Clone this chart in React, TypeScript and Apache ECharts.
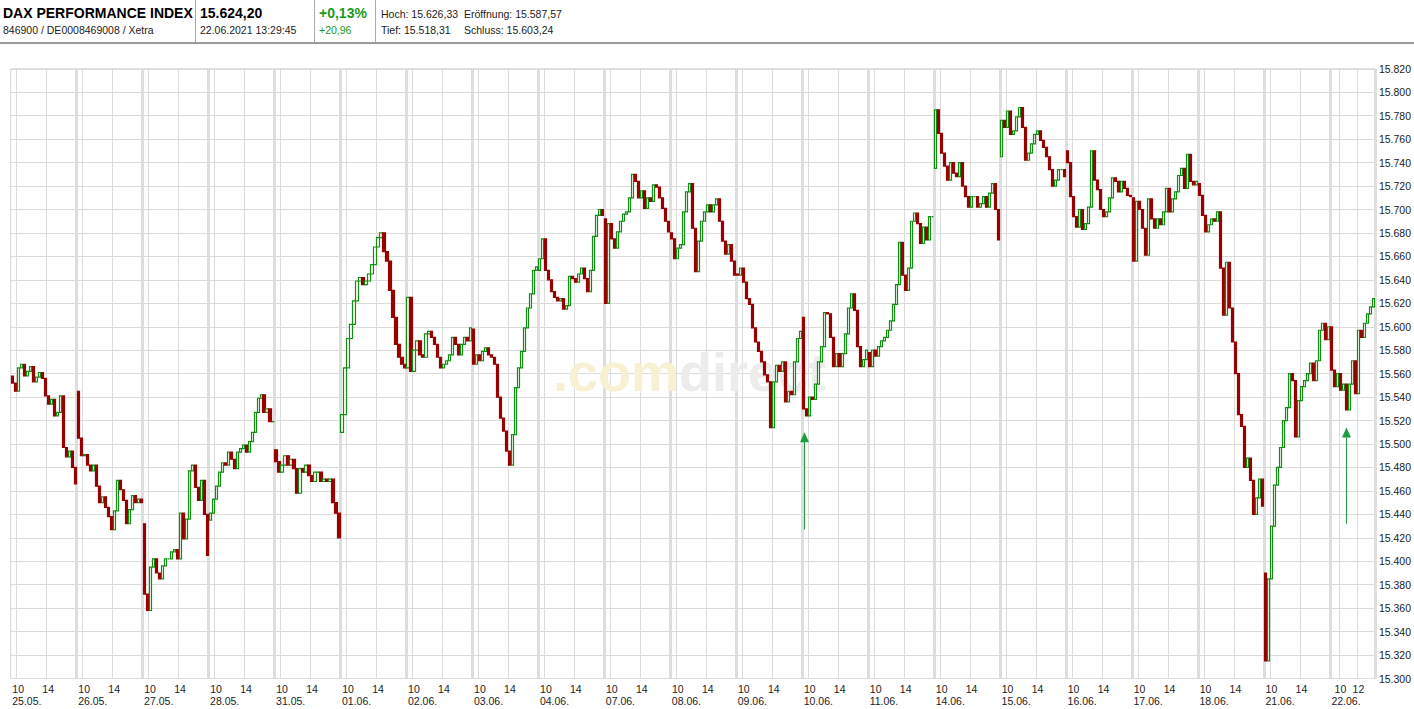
import React, { useEffect, useRef } from 'react';
import * as echarts from 'echarts';

// ---- data ----
const dayLabels = ['25.05.', '26.05.', '27.05.', '28.05.', '31.05.', '01.06.', '02.06.', '03.06.', '04.06.', '07.06.', '08.06.', '09.06.', '10.06.', '11.06.', '14.06.', '15.06.', '16.06.', '17.06.', '18.06.', '21.06.', '22.06.'];

const dayOpens = [15558, 15545, 15432, 15435, 15495, 15510, 15565, 15598, 15648, 15692, 15680, 15645, 15608, 15578, 15735, 15745, 15750, 15710, 15722, 15390, 15600];

const d0 = [15552, 15545, 15565, 15568, 15558, 15562, 15566, 15553, 15557, 15561, 15556, 15541, 15534, 15538, 15524, 15527, 15541, 15497, 15489, 15494, 15480, 15466];
const d1 = [15505, 15490, 15491, 15482, 15477, 15482, 15464, 15450, 15455, 15446, 15438, 15427, 15443, 15469, 15461, 15452, 15432, 15444, 15456, 15450, 15453, 15450];
const d2 = [15372, 15358, 15395, 15402, 15390, 15385, 15396, 15402, 15402, 15408, 15410, 15402, 15441, 15419, 15436, 15477, 15482, 15463, 15452, 15469, 15440, 15405];
const d3 = [15441, 15453, 15464, 15476, 15484, 15482, 15493, 15487, 15479, 15493, 15496, 15499, 15493, 15502, 15510, 15527, 15539, 15542, 15527, 15530, 15519, 15519];
const d4 = [15485, 15476, 15482, 15490, 15482, 15487, 15479, 15458, 15479, 15476, 15482, 15473, 15468, 15476, 15476, 15468, 15470, 15468, 15470, 15450, 15441, 15420];
const d5 = [15525, 15565, 15590, 15602, 15622, 15639, 15642, 15636, 15639, 15645, 15653, 15668, 15676, 15680, 15664, 15656, 15631, 15608, 15585, 15574, 15568, 15565];
const d6 = [15625, 15562, 15580, 15588, 15576, 15574, 15594, 15596, 15591, 15585, 15574, 15565, 15568, 15571, 15576, 15591, 15585, 15576, 15585, 15591, 15588, 15599];
const d7 = [15568, 15576, 15571, 15579, 15582, 15576, 15574, 15568, 15540, 15522, 15511, 15494, 15482, 15508, 15548, 15565, 15579, 15599, 15616, 15628, 15648, 15651];
const d8 = [15658, 15675, 15648, 15640, 15630, 15625, 15622, 15624, 15615, 15618, 15643, 15641, 15638, 15645, 15650, 15641, 15630, 15648, 15677, 15695, 15700, 15695];
const d9 = [15620, 15688, 15675, 15667, 15681, 15690, 15696, 15698, 15710, 15730, 15724, 15710, 15716, 15701, 15710, 15707, 15721, 15719, 15710, 15701, 15690, 15681];
const d10 = [15675, 15658, 15667, 15670, 15698, 15715, 15722, 15684, 15647, 15673, 15690, 15698, 15704, 15698, 15704, 15709, 15690, 15673, 15662, 15670, 15656, 15644];
const d11 = [15644, 15650, 15638, 15624, 15619, 15599, 15587, 15579, 15570, 15559, 15553, 15514, 15553, 15567, 15562, 15570, 15536, 15545, 15542, 15570, 15590, 15596];
const d12 = [15530, 15524, 15540, 15538, 15551, 15570, 15583, 15612, 15611, 15591, 15566, 15577, 15566, 15577, 15594, 15616, 15628, 15614, 15583, 15566, 15572, 15580];
const d13 = [15566, 15580, 15575, 15583, 15588, 15591, 15597, 15605, 15619, 15636, 15672, 15644, 15631, 15650, 15690, 15697, 15688, 15671, 15685, 15674, 15694, 15694];
const d14 = [15785, 15765, 15748, 15737, 15725, 15740, 15731, 15728, 15740, 15720, 15711, 15702, 15711, 15711, 15702, 15705, 15711, 15702, 15714, 15722, 15700, 15674];
const d15 = [15776, 15770, 15784, 15764, 15767, 15779, 15787, 15770, 15742, 15748, 15756, 15764, 15767, 15759, 15753, 15745, 15734, 15720, 15725, 15734, 15734, 15728];
const d16 = [15740, 15711, 15694, 15685, 15700, 15683, 15688, 15702, 15750, 15725, 15717, 15700, 15694, 15698, 15710, 15727, 15724, 15715, 15724, 15718, 15712, 15711];
const d17 = [15656, 15707, 15700, 15684, 15661, 15709, 15692, 15684, 15692, 15687, 15698, 15718, 15698, 15709, 15715, 15729, 15735, 15718, 15747, 15724, 15721, 15724];
const d18 = [15712, 15695, 15681, 15687, 15692, 15690, 15698, 15650, 15610, 15655, 15616, 15587, 15560, 15525, 15515, 15480, 15488, 15469, 15440, 15454, 15470, 15447];
const d19 = [15315, 15385, 15430, 15465, 15480, 15497, 15520, 15531, 15560, 15554, 15506, 15537, 15549, 15554, 15560, 15569, 15554, 15571, 15597, 15603, 15589, 15600];
const d20 = [15563, 15549, 15560, 15546, 15551, 15529, 15551, 15571, 15543, 15597, 15591, 15603, 15611, 15617, 15624];

const dayCloses = [d0, d1, d2, d3, d4, d5, d6, d7, d8, d9, d10, d11, d12, d13, d14, d15, d16, d17, d18, d19, d20];

// hour tick labels: [slot within day, label]
const hourTicks: [number, string][] = [[2, '10'], [12, '14']];
const lastDayHourTicks: [number, string][] = [[3, '10'], [9, '12']];

// signal arrows: day, slot, arrow tip value, tail value
const signals = [
  { day: 12, slot: 0, tip: 15510, tail: 15427 },
  { day: 20, slot: 5, tip: 15514, tail: 15432 },
];

const yMin = 15300;
const yMax = 15820;
const yStep = 20;

const FONT = '"Liberation Sans", Arial, sans-serif';

export default function App() {
  const ref = useRef<HTMLDivElement>(null);

  useEffect(() => {
    document.body.style.margin = '0';
    if (!ref.current) return;
    const chart = echarts.init(ref.current, null, { renderer: 'svg' });

    const categories: string[] = [];
    const hourLabels: string[] = [];
    const dateLabels: string[] = [];
    const candles: number[][] = [];
    const hourIdx = new Set<number>();
    const dayIdx = new Set<number>();
    const dayStart: number[] = [];

    dayCloses.forEach((closes, d) => {
      const ticks = d === dayCloses.length - 1 ? lastDayHourTicks : hourTicks;
      const start = categories.length;
      dayStart.push(start);
      if (d > 0) dayIdx.add(start);
      let prev = dayOpens[d];
      closes.forEach((c, i) => {
        const idx = categories.length;
        categories.push(d + '-' + i);
        const t = ticks.find((tt) => tt[0] === i);
        hourLabels.push(t ? t[1] : '');
        if (t) hourIdx.add(idx);
        dateLabels.push(i === 0 ? dayLabels[d] : '');
        candles.push([prev, c, Math.min(prev, c), Math.max(prev, c)]);
        prev = c;
      });
    });

    const signalData = signals.map((s) => [dayStart[s.day] + s.slot, s.tip, s.tail]);

    const green = '#128f12';
    const red = '#990000';

    const option: any = {
      animation: false,
      backgroundColor: '#ffffff',
      grid: {
        left: 10.7,
        right: 38,
        top: 68.8,
        bottom: 30.5,
        show: true,
        borderColor: '#d6d6d6',
        borderWidth: 1,
        backgroundColor: 'transparent',
      },
      xAxis: [
        {
          type: 'category',
          data: categories,
          boundaryGap: true,
          axisLine: { show: false },
          axisTick: { show: false },
          axisLabel: {
            interval: (i: number) => hourIdx.has(i),
            formatter: (_v: string, i: number) => hourLabels[i],
            color: '#222',
            fontSize: 10.5,
            fontFamily: FONT,
            margin: 5,
          },
          splitLine: {
            show: true,
            interval: (i: number) => hourIdx.has(i),
            lineStyle: { color: '#dcdcdc', width: 1 },
          },
        },
        {
          type: 'category',
          data: categories,
          boundaryGap: true,
          position: 'bottom',
          offset: 12,
          axisLine: { show: false },
          axisTick: { show: false },
          axisLabel: {
            interval: (i: number) => dateLabels[i] !== '',
            formatter: (_v: string, i: number) => dateLabels[i],
            color: '#222',
            fontSize: 10.5,
            fontFamily: FONT,
            align: 'left',
            margin: 5,
          },
          splitLine: {
            show: true,
            interval: (i: number) => dayIdx.has(i),
            lineStyle: { color: '#dedede', width: 3 },
          },
        },
      ],
      yAxis: {
        type: 'value',
        position: 'right',
        min: yMin,
        max: yMax,
        interval: yStep,
        axisLine: { show: false },
        axisTick: { show: false },
        axisLabel: {
          formatter: (v: number) => (v / 1000).toFixed(3),
          color: '#222',
          fontSize: 10.5,
          fontFamily: FONT,
          margin: 4,
        },
        splitLine: { show: true, lineStyle: { color: '#dcdcdc', width: 1 } },
      },
      graphic: [
        // header texts
        { type: 'text', left: 3, top: 6, style: { text: 'DAX PERFORMANCE INDEX', font: 'bold 14px ' + FONT, fill: '#000' } },
        { type: 'text', left: 3, top: 24, style: { text: '846900 / DE0008469008 / Xetra', font: '10.5px ' + FONT, fill: '#222' } },
        { type: 'text', left: 200, top: 6, style: { text: '15.624,20', font: 'bold 14px ' + FONT, fill: '#000' } },
        { type: 'text', left: 200, top: 24, style: { text: '22.06.2021 13:29:45', font: '10.5px ' + FONT, fill: '#222' } },
        { type: 'text', left: 319, top: 6, style: { text: '+0,13%', font: 'bold 14px ' + FONT, fill: '#1c9a1c' } },
        { type: 'text', left: 319, top: 24, style: { text: '+20,96', font: '10.5px ' + FONT, fill: '#1c9a1c' } },
        { type: 'text', left: 381, top: 8, style: { text: 'Hoch: 15.626,33', font: '10.5px ' + FONT, fill: '#222' } },
        { type: 'text', left: 464, top: 8, style: { text: 'Eröffnung: 15.587,57', font: '10.5px ' + FONT, fill: '#222' } },
        { type: 'text', left: 381, top: 24, style: { text: 'Tief: 15.518,31', font: '10.5px ' + FONT, fill: '#222' } },
        { type: 'text', left: 464, top: 24, style: { text: 'Schluss: 15.603,24', font: '10.5px ' + FONT, fill: '#222' } },
        { type: 'line', shape: { x1: 195.5, y1: 0, x2: 195.5, y2: 42 }, style: { stroke: '#aaaaaa', lineWidth: 1 } },
        { type: 'line', shape: { x1: 314.5, y1: 0, x2: 314.5, y2: 42 }, style: { stroke: '#aaaaaa', lineWidth: 1 } },
        { type: 'line', shape: { x1: 375.5, y1: 0, x2: 375.5, y2: 42 }, style: { stroke: '#aaaaaa', lineWidth: 1 } },
        { type: 'line', shape: { x1: 0, y1: 43, x2: 1414, y2: 43 }, style: { stroke: '#9a9a9a', lineWidth: 2 } },
        // watermark
        { type: 'text', left: 553, top: 345, z: 1, style: { text: '.com', font: 'bold 54px ' + FONT, fill: '#f8f0d2' } },
        { type: 'text', left: 679, top: 345, z: 1, style: { text: 'direct', font: 'bold 54px ' + FONT, fill: '#ececec' } },
      ],
      series: [
        {
          type: 'candlestick',
          xAxisIndex: 0,
          data: candles,
          barWidth: 2.6,
          z: 3,
          itemStyle: {
            color: '#ffffff',
            color0: red,
            borderColor: green,
            borderColor0: red,
            borderWidth: 1.2,
          },
        },
        {
          type: 'custom',
          xAxisIndex: 0,
          data: signalData,
          z: 4,
          encode: { x: 0, y: [1, 2] },
          renderItem: (_params: any, api: any) => {
            const tip = api.coord([api.value(0), api.value(1)]);
            const tail = api.coord([api.value(0), api.value(2)]);
            const x = Math.round(tip[0]) + 0.5;
            return {
              type: 'group',
              children: [
                { type: 'line', shape: { x1: x, y1: tip[1] + 9, x2: x, y2: tail[1] }, style: { stroke: '#1f9a3f', lineWidth: 1 } },
                { type: 'polygon', shape: { points: [[x, tip[1]], [x - 4.5, tip[1] + 10], [x + 4.5, tip[1] + 10]] }, style: { fill: '#1f9a3f' } },
              ],
            };
          },
        },
      ],
    };

    chart.setOption(option);
    return () => chart.dispose();
  }, []);

  return <div ref={ref} style={{ width: 1414, height: 709 }} />;
}
